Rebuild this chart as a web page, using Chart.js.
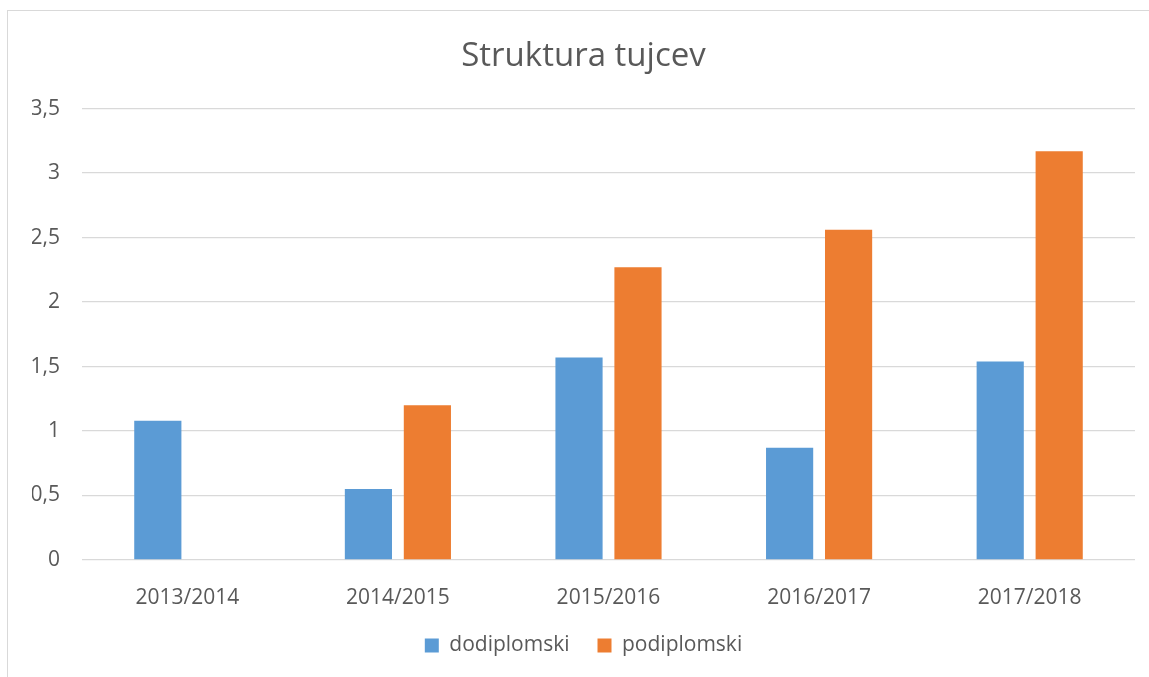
<!DOCTYPE html>
<html lang="sl">
<head>
<meta charset="UTF-8">
<title>Struktura tujcev</title>
<script src="https://cdn.jsdelivr.net/npm/chart.js"></script>
<style>
  html, body { margin: 0; padding: 0; background: #fff; overflow: hidden; }
  .okvir { position: absolute; left: 7px; top: 10px; width: 1200px; height: 700px;
           border: 1px solid #d9d9d9; }
  .graf { position: absolute; left: 0; top: 0; width: 1149px; height: 677px; }
</style>
</head>
<body>
<div class="okvir"></div>
<div class="graf"><canvas id="graf"></canvas></div>
<script>
// podatki
const leta = ['2013/2014', '2014/2015', '2015/2016', '2016/2017', '2017/2018'];
const dodiplomski = [1.08, 0.55, 1.57, 0.87, 1.54];
const podiplomski = [0, 1.2, 2.27, 2.56, 3.17];

const siva = '#595959';
const pisava = "'Open Sans', 'Liberation Sans', sans-serif";

const ctx = document.getElementById('graf').getContext('2d');
new Chart(ctx, {
  type: 'bar',
  data: {
    labels: leta,
    datasets: [
      { label: 'dodiplomski', data: dodiplomski, backgroundColor: '#5B9BD5' },
      { label: 'podiplomski', data: podiplomski, backgroundColor: '#ED7D31' }
    ]
  },
  options: {
    responsive: true,
    maintainAspectRatio: false,
    animation: false,
    categoryPercentage: 0.56,
    barPercentage: 0.8,
    layout: { padding: { left: 32, right: 14, top: 37, bottom: 11 } },
    plugins: {
      title: {
        display: true,
        text: 'Struktura tujcev',
        color: siva,
        font: { family: pisava, size: 33, weight: 'normal' },
        padding: { top: 0, bottom: 32 }
      },
      legend: {
        position: 'bottom',
        labels: {
          color: siva,
          font: { family: pisava, size: 21 },
          boxWidth: 14,
          boxHeight: 14,
          padding: 28
        }
      },
      tooltip: { enabled: false }
    },
    scales: {
      x: {
        grid: { display: false },
        border: { display: false },
        ticks: { color: siva, font: { family: pisava, size: 21 }, padding: 17 },
        afterFit: s => { s.height = 47; }
      },
      y: {
        min: 0,
        max: 3.5,
        grid: { color: '#d9d9d9', lineWidth: 1.3, drawTicks: false },
        border: { display: false },
        ticks: {
          stepSize: 0.5,
          color: siva,
          font: { family: pisava, size: 21 },
          padding: 22,
          callback: v => String(v).replace('.', ',')
        },
        afterFit: s => { s.width = 50; }
      }
    }
  }
});
</script>
</body>
</html>
